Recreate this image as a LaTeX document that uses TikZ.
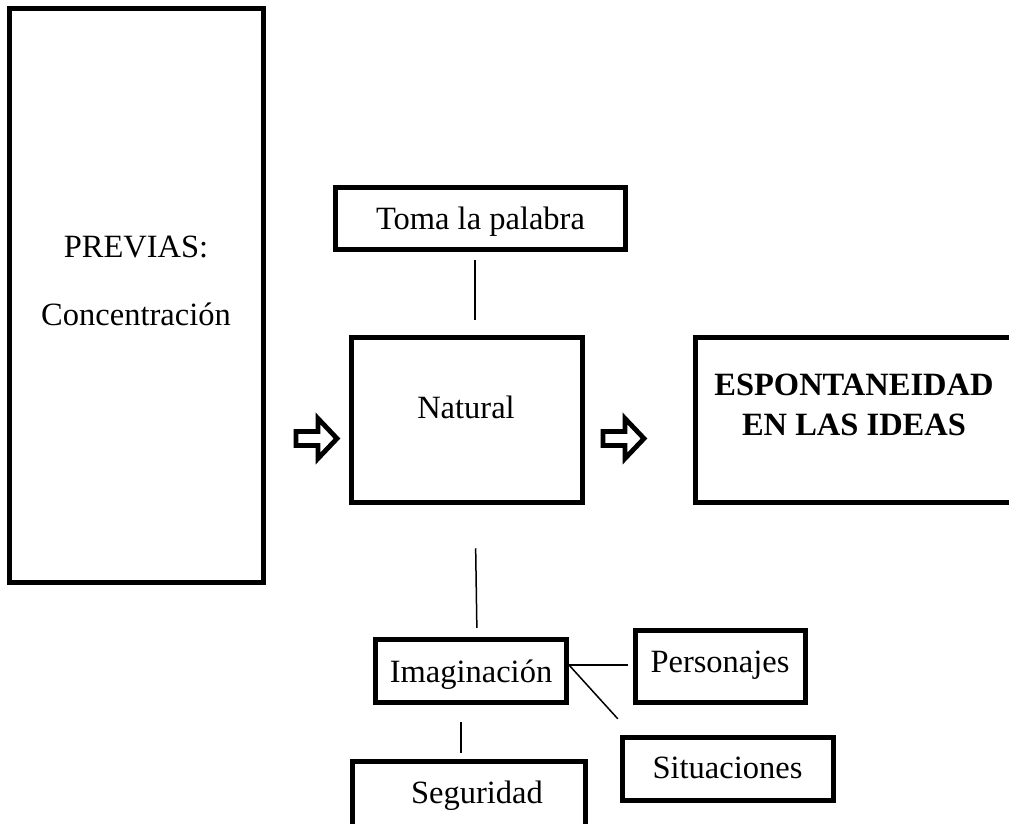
\documentclass[tikz,border=0pt]{standalone}
\usepackage{fontspec}
\setmainfont{Liberation Serif}
\begin{document}
\begin{tikzpicture}[x=1pt,y=-1pt,
  box/.style={draw=black, line width=5pt, inner sep=0pt, fill=white},
  txt/.style={inner sep=0pt, font=\fontsize{32.5}{40}\selectfont},
  btxt/.style={inner sep=0pt, align=center, font=\fontsize{32.5}{40}\selectfont\bfseries},
  link/.style={draw=black, line width=1.5pt},
  blockarr/.pic={\draw[line width=4.8pt, fill=white, line join=miter] (0,-7) -- (22,-7) -- (22,-20) -- (41,0) -- (22,20) -- (22,7) -- (0,7) -- cycle;}]
\useasboundingbox (0,0) rectangle (1009,823);
\clip (0,0) rectangle (1009,823);

% boxes
\node[box, minimum width=254pt, minimum height=574pt] (prev) at (136.5,295.5) {};
\node[txt, anchor=base] (prevT) at (136,257) {PREVIAS:};
\node[txt, anchor=base] (concT) at (136,325) {Concentración};

\node[box, minimum width=290pt, minimum height=62pt] (toma) at (480.5,218.5) {};
\node[txt, anchor=base] (tomaT) at (480.5,229) {Toma la palabra};

\node[box, minimum width=231pt, minimum height=165pt] (nat) at (467,420) {};
\node[txt, anchor=base] (natT) at (466,418) {Natural};

\node[box, minimum width=334.5pt, minimum height=165pt] (esp) at (862.75,420) {};
\node[btxt] (espT) at (854,404.5) {ESPONTANEIDAD\\EN LAS IDEAS};

\node[box, minimum width=191pt, minimum height=63pt] (img) at (471,671) {};
\node[txt, anchor=base] (imgT) at (471,682) {Imaginación};

\node[box, minimum width=170pt, minimum height=72pt] (pers) at (720.5,666.5) {};
\node[txt, anchor=base] (persT) at (720,672) {Personajes};

\node[box, minimum width=211pt, minimum height=63pt] (sit) at (728,769) {};
\node[txt, anchor=base] (sitT) at (727.5,778) {Situaciones};

\node[box, minimum width=233pt, minimum height=70pt] (seg) at (469,796.5) {};
\node[txt, anchor=base] (segT) at (477,803) {Seguridad};

% connectors
\draw[link, shorten <=8.25pt, shorten >=15.25pt] ([xshift=-5.5pt]toma.south) -- ([xshift=8pt]nat.north);
\draw[link, shorten <=43.25pt, shorten >=9.25pt] ([xshift=8pt]nat.south) -- ([xshift=6pt]img.north);
\draw[link, shorten >=5.25pt] ([yshift=6pt]img.east) -- ([yshift=1.5pt]pers.west);
\draw[link] ([yshift=6pt]img.east) -- ([xshift=-2.25pt,yshift=16.25pt]sit.north west);
\draw[link, shorten <=17.25pt, shorten >=6.25pt] ([xshift=-10pt]img.south) -- ([xshift=-8pt]seg.north);

% block arrows
\pic (arrL) at (296,438.5) {blockarr};
\pic (arrR) at (603,438.5) {blockarr};
\end{tikzpicture}
\end{document}
